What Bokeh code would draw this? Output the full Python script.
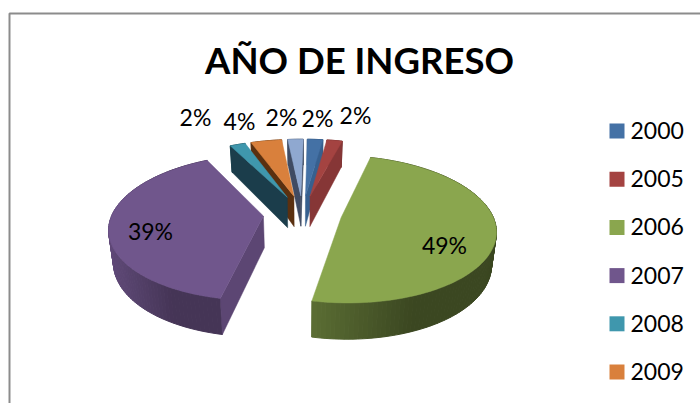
import math
from bokeh.plotting import figure
from bokeh.embed import file_html
from bokeh.resources import INLINE
from bokeh.core.properties import value

# ---- data
TITLE = "AÑO DE INGRESO"
CATEGORIES = ["2000", "2005", "2006", "2007", "2008", "2009"]
COUNTS = [1, 1, 25, 20, 1, 2, 1]

# ---- style
COLORS = ["#4471a5", "#a44341", "#8aa64e", "#70568c", "#3f97ad", "#d9803c", "#8fa8d0"]
FACE = ["#37608f", "#863636", "#56692f", "#5c4673", "#1b3d4b", "#5a3010", "#3f4b63"]
SIDE_LIGHT = [.7, .7, .66, .86, .5, .5, .5]
SIDE_DARK = [.7, .7, .43, .62, .5, .5, .5]
LABEL_X = [317, 355, 444, 150, 195, 239, 281]
LABEL_Y = [117, 114, 244, 230, 116, 120, 116]
DRAW_ORDER = [0, 1, 6, 5, 4, 3, 2]
FONT = "Lato"

# ---- layout (page pixels)
W, H = 700, 403
CX, CY, RX, RY = 302, 213, 151, 70.5
K = 0.155
EXPLODE = 0.26
DEPTH, DEPTH_T = 31.5, 4.5
SHRINK = 0.025
ROT = 1.0
LEG_X, LEG_Y, LEG_STEP, LEG_S = 609, 130.5, 48.2, 15


def project(X, Y, z=0):
    w = 1 + K * Y
    x = CX + RX * X / w * (1 - SHRINK * z)
    y = CY - RY * Y / w + z * (DEPTH - DEPTH_T * Y)
    return x, y


def shade(c, f):
    r, g, b = (int(c[i:i + 2], 16) for i in (1, 3, 5))
    return "#%02x%02x%02x" % (int(r * f), int(g * f), int(b * f))


p = figure(width=W, height=H, x_range=(0, W), y_range=(H, 0),
           toolbar_location=None, output_backend="svg", min_border=0)
p.axis.visible = False
p.grid.visible = False
p.outline_line_color = None
p.background_fill_color = "white"
p.border_fill_color = "white"

# frame
p.line([9, 9, W], [H, 13, 13], line_color="#8c8c8c", line_width=2)

total = sum(COUNTS)
slices = []
a = ROT
for i, c in enumerate(COUNTS):
    b = a + 360 * c / total
    slices.append((i, a, b))
    a = b


def geom(a, b):
    m = math.radians((a + b) / 2)
    ox, oy = EXPLODE * math.sin(m), EXPLODE * math.cos(m)
    def pt(t, z=0, r=1.0):
        t = math.radians(t)
        return project(ox + r * math.sin(t), oy + r * math.cos(t), z)
    return pt


for i, a, b in (slices[k] for k in DRAW_ORDER):
    pt = geom(a, b)
    n = max(4, int((b - a) / 1.5))
    ts = [a + (b - a) * j / n for j in range(n + 1)]
    xs_all = [pt(t)[0] for t in ts]
    lo, hi = min(xs_all), max(xs_all)
    # outer wall, one strip per step
    for j in range(n):
        t0, t1 = ts[j], ts[j + 1]
        P = [pt(t0), pt(t1), pt(t1, 1), pt(t0, 1)]
        fx = ((P[0][0] + P[1][0]) / 2 - lo) / max(hi - lo, 1)
        # light at the left, dark towards the middle and then flat
        fr = min(1, fx / 0.55)
        f = SIDE_LIGHT[i] + (SIDE_DARK[i] - SIDE_LIGHT[i]) * fr
        col = shade(COLORS[i], f)
        p.patch([q[0] for q in P], [q[1] for q in P], fill_color=col, line_color=col, line_width=1)
    # cut faces
    ref = pt((a + b) / 2)
    tip = pt(0, 0, 0)
    tipb = pt(0, 1, 0)
    for t in (a, b):
        o = pt(t)
        ob = pt(t, 1)
        if abs(o[0] - tip[0]) < 1e-6:
            continue
        ly = tip[1] + (o[1] - tip[1]) * (ref[0] - tip[0]) / (o[0] - tip[0])
        if ref[1] < ly:
            xs = [tip[0], o[0], ob[0], tipb[0]]
            ys = [tip[1], o[1], ob[1], tipb[1]]
            p.patch(xs, ys, fill_color=FACE[i], line_color=FACE[i], line_width=0.5)
    # top surface
    top = [tip] + [pt(t) for t in ts]
    p.patch([q[0] for q in top], [q[1] for q in top], fill_color=COLORS[i],
            line_color=COLORS[i], line_width=0.5)

# data labels
labels = ["%d%%" % round(100 * c / total) for c in COUNTS]
p.text(LABEL_X, LABEL_Y, text=labels, text_align="center", text_baseline="middle",
       text_font=value(FONT), text_font_size="23px", text_color="#000000")

# title
p.text([359], [59.5], text=[TITLE], text_align="center", text_baseline="middle",
       text_font=value(FONT), text_font_style="bold", text_font_size="36.5px", text_color="#000000")

# legend
ys = [LEG_Y + LEG_STEP * i for i in range(len(CATEGORIES))]
p.quad(left=[LEG_X] * len(ys), right=[LEG_X + LEG_S] * len(ys),
       top=[y - LEG_S / 2 for y in ys], bottom=[y + LEG_S / 2 for y in ys],
       fill_color=COLORS[:len(ys)], line_color=None)
p.text([630] * len(ys), [y - 0.5 for y in ys], text=CATEGORIES, text_align="left", text_baseline="middle",
       text_font=value(FONT), text_font_size="23px", text_color="#000000")

open("out.html", "w").write(file_html(p, INLINE))
